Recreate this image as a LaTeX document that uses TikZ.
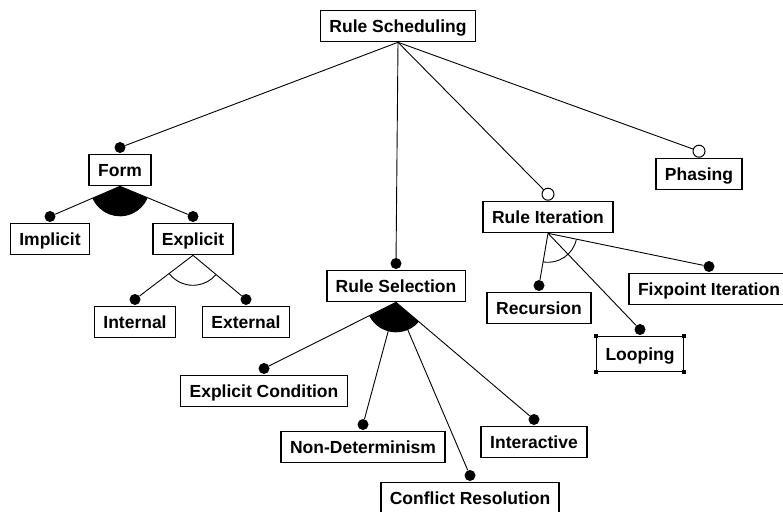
\documentclass[tikz,border=0pt]{standalone}
\usepackage{fontspec}
\setmainfont{Liberation Sans}
\usetikzlibrary{calc}
\begin{document}
\begin{tikzpicture}[x=1pt,y=-1pt,
  box/.style={draw, line width=1.6pt, inner xsep=9pt, inner ysep=0pt, minimum height=31pt,
    text height=12.5pt, text depth=0pt, font=\fontsize{17.5}{20}\selectfont\bfseries},
  fdot/.style={circle, fill, inner sep=0pt, minimum size=11pt},
  odot/.style={circle, draw, fill=white, line width=1pt, inner sep=0pt, minimum size=12pt},
  link/.style={line width=0.9pt},
  handle/.style={rectangle, fill, minimum size=4pt, inner sep=0pt}]
\fill[white] (0,0) rectangle (783,511);
\useasboundingbox (0,0) rectangle (783,511);

% boxes
\node[box] (RS) at (398,26) {Rule Scheduling};
\node[box] (Form) at (120,170) {Form};
\node[box] (Implicit) at (50,239) {Implicit};
\node[box] (Explicit) at (193,239) {Explicit};
\node[box] (Internal) at (135,322) {Internal};
\node[box] (External) at (246,322) {External};
\node[box] (RSel) at (396,286) {Rule Selection};
\node[box] (ExpCond) at (264,391) {Explicit Condition};
\node[box] (NonDet) at (363,447) {Non-Determinism};
\node[box] (Conflict) at (470,498) {Conflict Resolution};
\node[box] (Interactive) at (534,442) {Interactive};
\node[box] (RIter) at (548,217) {Rule Iteration};
\node[box] (Recursion) at (539,308) {Recursion};
\node[box, minimum height=35pt] (Looping) at (640,354) {Looping};
\node[box] (Fixpoint) at (709,289) {Fixpoint Iteration};
\node[box] (Phasing) at (699,174) {Phasing};

% selection handles on Looping
\foreach \c in {north west, north east, south west, south east}
  \node[handle] at (Looping.\c) {};

% dots
\node[fdot, above=0.5pt] (dForm) at (Form.north) {};
\node[fdot, above=0.5pt] (dImplicit) at (Implicit.north) {};
\node[fdot, above=0.5pt] (dExplicit) at (Explicit.north) {};
\node[fdot, above=0.5pt] (dInternal) at (Internal.north) {};
\node[fdot, above=0.5pt] (dExternal) at (External.north) {};
\node[fdot, above=0.5pt] (dRSel) at (RSel.north) {};
\node[fdot, above=0.5pt] (dExpCond) at (ExpCond.north) {};
\node[fdot, above=0.5pt] (dNonDet) at (NonDet.north) {};
\node[fdot, above=0.5pt] (dConflict) at (Conflict.north) {};
\node[fdot, above=0.5pt] (dInteractive) at (Interactive.north) {};
\node[fdot, above=0.5pt] (dRecursion) at (Recursion.north) {};
\node[fdot, above=0.5pt] (dLooping) at (Looping.north) {};
\node[fdot, above=0.5pt] (dFixpoint) at (Fixpoint.north) {};

% group markers
\fill (Form.south) -- ++(203.6:30pt) arc[start angle=203.6, end angle=337, radius=30pt] -- cycle;
\fill (RSel.south) -- ++(207.3:30pt) arc[start angle=207.3, end angle=319.5, radius=30pt] -- cycle;
\draw[link] (Explicit.south) ++(218.4:30pt) arc[start angle=218.4, end angle=319, radius=30pt];
\draw[link] (RIter.south) ++(260.5:29pt) arc[start angle=260.5, end angle=347.7, radius=29pt];

% connectors
\draw[link] (RS.south) -- (dForm);
\draw[link] (RS.south) -- (dRSel);
\draw[link] (Form.south) -- (dImplicit);
\draw[link] (Form.south) -- (dExplicit);
\draw[link] (Explicit.south) -- (dInternal);
\draw[link] (Explicit.south) -- (dExternal);
\draw[link] (RSel.south) -- (dExpCond);
\draw[link] (RSel.south) -- (dNonDet);
\draw[link] (RSel.south) -- (dConflict);
\draw[link] (RSel.south) -- (dInteractive);
\draw[link] (RIter.south) -- (dRecursion);
\draw[link] (RIter.south) -- (dLooping);
\draw[link] (RIter.south) -- (dFixpoint);

% optional features (open circles)
\node[odot, above=0pt] (oRIter) at (RIter.north) {};
\node[odot, above=0pt] (oPhasing) at (Phasing.north) {};
\draw[link] (RS.south) -- (oRIter);
\draw[link] (RS.south) -- (oPhasing);
\end{tikzpicture}
\end{document}
